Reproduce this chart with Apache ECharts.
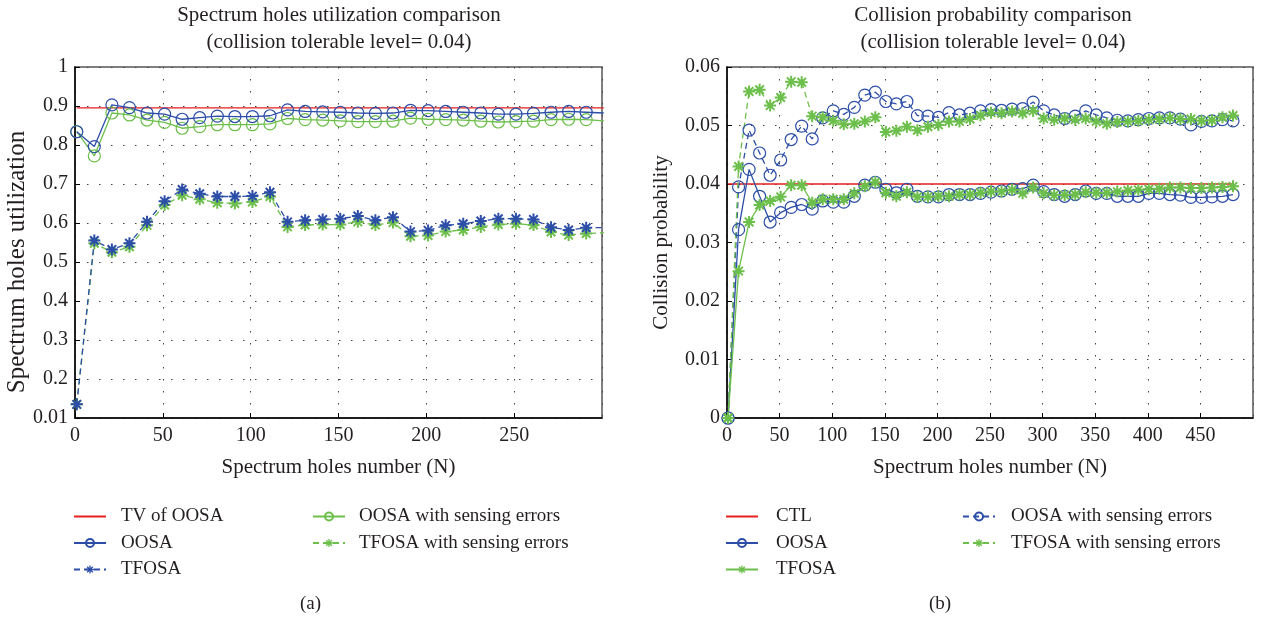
<!DOCTYPE html>
<html>
<head>
<meta charset="utf-8">
<script src="https://cdn.jsdelivr.net/npm/echarts@6/dist/echarts.min.js"></script>
<style>html,body{margin:0;padding:0;background:#fff}#c{width:1285px;height:619px}</style>
</head>
<body>
<div id="c"></div>
<script>
// ---------- Data: chart (a) ----------
const nA = [1,11,21,31,41,51,61,71,81,91,101,111,121,131,141,151,161,171,181,191,201,211,221,231,241,251,261,271,281,291,301];
const tvOosaA = [0.895,0.895,0.895,0.895,0.895,0.895,0.895,0.895,0.895,0.895,0.895,0.895,0.895,0.895,0.895,0.895,0.895,0.895,0.895,0.895,0.895,0.895,0.895,0.895,0.895,0.895,0.895,0.895,0.895,0.895,0.895];
const oosaA = [0.834,0.796,0.903,0.896,0.882,0.879,0.866,0.870,0.874,0.873,0.873,0.875,0.890,0.886,0.885,0.884,0.882,0.881,0.882,0.889,0.888,0.886,0.884,0.882,0.879,0.879,0.881,0.884,0.886,0.884,0.882];
const tfosaA = [0.135,0.555,0.532,0.548,0.603,0.656,0.686,0.675,0.668,0.668,0.669,0.679,0.603,0.607,0.609,0.611,0.618,0.607,0.615,0.578,0.581,0.594,0.598,0.605,0.611,0.611,0.609,0.589,0.582,0.588,0.588];
const oosaSeA = [0.834,0.772,0.882,0.877,0.864,0.858,0.843,0.847,0.852,0.852,0.852,0.854,0.868,0.865,0.864,0.862,0.860,0.860,0.861,0.869,0.866,0.865,0.864,0.861,0.859,0.860,0.861,0.865,0.866,0.865,0.862];
const tfosaSeA = [0.135,0.548,0.525,0.539,0.594,0.646,0.671,0.661,0.652,0.650,0.654,0.668,0.590,0.595,0.596,0.596,0.603,0.595,0.601,0.566,0.568,0.578,0.582,0.590,0.596,0.598,0.595,0.577,0.569,0.573,0.575];
const yTickLabelsA = ['0.01','0.2','0.3','0.4','0.5','0.6','0.7','0.8','0.9','1'];

// ---------- Data: chart (b) ----------
const nB = [1,11,21,31,41,51,61,71,81,91,101,111,121,131,141,151,161,171,181,191,201,211,221,231,241,251,261,271,281,291,301,311,321,331,341,351,361,371,381,391,401,411,421,431,441,451,461,471,481];
const ctlB = [0.04,0.04,0.04,0.04,0.04,0.04,0.04,0.04,0.04,0.04,0.04,0.04,0.04,0.04,0.04,0.04,0.04,0.04,0.04,0.04,0.04,0.04,0.04,0.04,0.04,0.04,0.04,0.04,0.04,0.04,0.04,0.04,0.04,0.04,0.04,0.04,0.04,0.04,0.04,0.04,0.04,0.04,0.04,0.04,0.04,0.04,0.04,0.04,0.04];
const oosaB = [0,0.0322,0.0425,0.0379,0.0335,0.0351,0.0360,0.0365,0.0357,0.0371,0.0369,0.0369,0.0379,0.0398,0.0403,0.0391,0.0385,0.0391,0.0379,0.0378,0.0378,0.0382,0.0382,0.0382,0.0384,0.0386,0.0388,0.0391,0.0392,0.0398,0.0387,0.0382,0.0379,0.0382,0.0388,0.0384,0.0384,0.0379,0.0379,0.0379,0.0384,0.0384,0.0382,0.0381,0.0377,0.0377,0.0378,0.0379,0.0382];
const tfosaB = [0,0.0251,0.0335,0.0364,0.0371,0.0378,0.0398,0.0398,0.0368,0.0374,0.0374,0.0374,0.0384,0.0396,0.0403,0.0385,0.0379,0.0386,0.0378,0.0378,0.0379,0.0379,0.0382,0.0382,0.0385,0.0387,0.0387,0.0390,0.0384,0.0394,0.0384,0.0381,0.0381,0.0382,0.0386,0.0385,0.0385,0.0387,0.0389,0.0390,0.0391,0.0392,0.0394,0.0394,0.0393,0.0393,0.0394,0.0395,0.0396];
const oosaSeB = [0,0.0395,0.0492,0.0453,0.0415,0.0441,0.0476,0.0499,0.0477,0.0513,0.0525,0.0519,0.0531,0.0552,0.0557,0.0541,0.0537,0.0541,0.0517,0.0516,0.0514,0.0522,0.0518,0.0521,0.0525,0.0527,0.0526,0.0528,0.0529,0.0540,0.0525,0.0518,0.0512,0.0516,0.0525,0.0518,0.0513,0.0509,0.0508,0.0510,0.0512,0.0513,0.0513,0.0511,0.0501,0.0507,0.0508,0.0510,0.0508];
const tfosaSeB = [0,0.0430,0.0558,0.0561,0.0534,0.0548,0.0575,0.0574,0.0516,0.0514,0.0508,0.0502,0.0503,0.0507,0.0514,0.0489,0.0491,0.0498,0.0492,0.0498,0.0501,0.0507,0.0507,0.0511,0.0517,0.0522,0.0521,0.0524,0.0521,0.0525,0.0512,0.0510,0.0512,0.0510,0.0512,0.0507,0.0503,0.0506,0.0507,0.0508,0.0510,0.0511,0.0513,0.0511,0.0511,0.0508,0.0509,0.0514,0.0517];

// ---------- Styling ----------
const FONT = 'Liberation Serif';
const TXT = '#231f20';
const BLUE = '#2d4ea8';
const GREEN = '#6cbf4a';
const RED = '#e41f1f';
const STAR = 'path://M10 0H14V24H10Z M0 10H24V14H0Z M4.91 2.09L21.91 19.09L19.09 21.91L2.09 4.91Z M21.91 4.91L4.91 21.91L2.09 19.09L19.09 2.09Z';
const DASH = [6, 4];

function pairs(xs, ys) { return xs.map((x, i) => [x, ys[i]]); }

function mkSeries(name, xs, ys, gi, color, dashed, sym) {
  const s = {
    name: name, type: 'line', xAxisIndex: gi, yAxisIndex: gi,
    data: pairs(xs, ys),
    lineStyle: { color: color, width: 1.3, type: dashed ? DASH : 'solid' },
    emphasis: { disabled: true }, silent: true, clip: true
  };
  if (sym === 'circle') {
    s.symbol = 'circle'; s.symbolSize = 12; s.showAllSymbol = true;
    s.itemStyle = { color: 'rgba(255,255,255,0)', borderColor: color, borderWidth: 1.2 };
  } else if (sym === 'star') {
    s.symbol = STAR; s.symbolSize = 12; s.showAllSymbol = true;
    s.itemStyle = { color: color, borderWidth: 0 };
  } else {
    s.symbol = 'none';
    s.itemStyle = { color: color };
  }
  return s;
}

function xAx(gi, max) {
  return {
    type: 'value', gridIndex: gi, min: 0, max: max, interval: 50,
    name: 'Spectrum holes number (N)', nameLocation: 'middle', nameGap: 39,
    nameTextStyle: { fontFamily: FONT, fontSize: 21, color: TXT },
    axisLine: { lineStyle: { color: '#000', width: 1.5 } },
    axisTick: { inside: true, length: 5, lineStyle: { color: '#000' } },
    axisLabel: { fontFamily: FONT, fontSize: 20, color: TXT, margin: 8, showMaxLabel: false },
    splitLine: { show: true, lineStyle: { color: '#444', width: 1, type: [1.5, 10.5] } }
  };
}

function mkLegend(left, pad, data) {
  return {
    orient: 'vertical', left: left, top: 507, padding: 0,
    itemWidth: 32, itemHeight: 10, itemGap: 7.5, selectedMode: false,
    textStyle: { fontFamily: FONT, fontSize: 19, color: TXT, padding: [0, 0, 0, pad] },
    formatter: n => n.slice(2),
    data: data
  };
}
const noSym = name => ({ name: name, itemStyle: { opacity: 0 } });

const option = {
  animation: false,
  backgroundColor: '#fff',
  title: [
    { text: 'Spectrum holes utilization comparison\n(collision tolerable level= 0.04)', left: 334, top: -3, textAlign: 'center',
      textStyle: { fontFamily: FONT, fontSize: 21, fontWeight: 'normal', color: TXT, lineHeight: 27 } },
    { text: 'Collision probability comparison\n(collision tolerable level= 0.04)', left: 988, top: -3, textAlign: 'center',
      textStyle: { fontFamily: FONT, fontSize: 21, fontWeight: 'normal', color: TXT, lineHeight: 27 } }
  ],
  grid: [
    { left: 75, top: 67, width: 527, height: 351, show: true, borderColor: '#555', borderWidth: 1.5, backgroundColor: 'transparent' },
    { left: 727, top: 67, width: 526, height: 351, show: true, borderColor: '#555', borderWidth: 1.5, backgroundColor: 'transparent' }
  ],
  xAxis: [ xAx(0, 300), xAx(1, 500) ],
  yAxis: [
    { type: 'value', gridIndex: 0, min: 0.1, max: 1, interval: 0.1,
      axisLine: { lineStyle: { color: '#000', width: 1.5 } },
      axisTick: { inside: true, length: 5, lineStyle: { color: '#000' } },
      axisLabel: { fontFamily: FONT, fontSize: 20, color: TXT, margin: 7, formatter: (v, i) => yTickLabelsA[i] },
      splitLine: { show: true, lineStyle: { color: '#444', width: 1, type: [1.5, 10.5] } } },
    { type: 'value', gridIndex: 1, min: 0, max: 0.06, interval: 0.01,
      name: 'Collision probability', nameLocation: 'middle', nameGap: 55,
      nameTextStyle: { fontFamily: FONT, fontSize: 21, color: TXT },
      axisLine: { lineStyle: { color: '#000', width: 1.5 } },
      axisTick: { inside: true, length: 5, lineStyle: { color: '#000' } },
      axisLabel: { fontFamily: FONT, fontSize: 20, color: TXT, margin: 7 },
      splitLine: { show: true, lineStyle: { color: '#444', width: 1, type: [1.5, 10.5] } } }
  ],
  legend: [
    mkLegend(73, 10, [noSym('a:TV of OOSA'), 'a:OOSA', 'a:TFOSA']),
    mkLegend(312, 9, ['a:OOSA with sensing errors', 'a:TFOSA with sensing errors']),
    mkLegend(725, 13, [noSym('b:CTL'), 'b:OOSA', 'b:TFOSA']),
    mkLegend(962, 11, ['b:OOSA with sensing errors', 'b:TFOSA with sensing errors'])
  ],
  graphic: [
    { type: 'text', x: 17, y: 262, rotation: Math.PI / 2,
      style: { text: 'Spectrum holes utilization', font: '25px "Liberation Serif"', fill: TXT, align: 'center', verticalAlign: 'middle' } },
    { type: 'text', left: 300, top: 595, style: { text: '(a)', font: '19px "Liberation Serif"', fill: TXT } },
    { type: 'text', left: 929, top: 595, style: { text: '(b)', font: '19px "Liberation Serif"', fill: TXT } }
  ],
  series: [
    mkSeries('a:TV of OOSA', nA, tvOosaA, 0, RED, false, 'none'),
    mkSeries('a:OOSA with sensing errors', nA, oosaSeA, 0, GREEN, false, 'circle'),
    mkSeries('a:TFOSA with sensing errors', nA, tfosaSeA, 0, GREEN, true, 'star'),
    mkSeries('a:OOSA', nA, oosaA, 0, BLUE, false, 'circle'),
    mkSeries('a:TFOSA', nA, tfosaA, 0, BLUE, true, 'star'),
    mkSeries('b:CTL', nB, ctlB, 1, RED, false, 'none'),
    mkSeries('b:OOSA', nB, oosaB, 1, BLUE, false, 'circle'),
    mkSeries('b:OOSA with sensing errors', nB, oosaSeB, 1, BLUE, true, 'circle'),
    mkSeries('b:TFOSA', nB, tfosaB, 1, GREEN, false, 'star'),
    mkSeries('b:TFOSA with sensing errors', nB, tfosaSeB, 1, GREEN, true, 'star')
  ]
};

const chart = echarts.init(document.getElementById('c'), null, { renderer: 'canvas' });
chart.setOption(option);
</script>
</body>
</html>
